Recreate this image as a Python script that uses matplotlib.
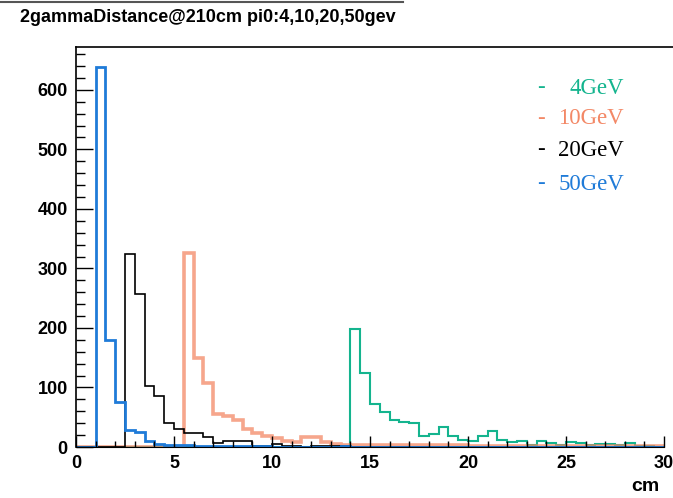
import numpy as np
import matplotlib
matplotlib.use("Agg")
import matplotlib.pyplot as plt
from matplotlib.lines import Line2D
from matplotlib.ticker import MultipleLocator

# histogram binning (cm), 0.5 cm bins from 0 to 30
bin_edges = np.linspace(0, 30, 61)

# counts per bin
h_4gev = [0] * 28 + [199, 125, 72, 59, 45, 42, 40, 18, 22, 34, 18, 12, 10, 18, 27, 12,
                     8, 10, 4, 10, 7, 3, 9, 6, 3, 5, 5, 3, 6, 2, 2, 0]
h_10gev = [0] * 11 + [326, 150, 107, 55, 52, 46, 30, 24, 19, 15, 10, 8, 16, 16, 8, 5, 3] \
    + [3] * 12 + [2] * 20
h_20gev = [0] * 5 + [325, 257, 103, 85, 40, 31, 23, 23, 16, 7, 10, 10, 10, 2, 2, 5, 2, 2, 0,
                     1, 1, 1, 1] + [0] * 32
h_50gev = [0, 0, 638, 180, 75, 28, 26, 10, 5, 4, 3, 3, 1, 2, 2, 2, 1, 1, 2, 1,
           0, 0, 0, 0, 0, 0, 0, 2] + [0] * 32

labels = ["4GeV", "10GeV", "20GeV", "50GeV"]
colors = ["#14b48e", "#f38866", "black", "#1f7bd8"]

title = "2gammaDistance@210cm pi0:4,10,20,50gev"

W, H = 673, 498
fig = plt.figure(figsize=(W / 100, H / 100), dpi=100)
ax = fig.add_axes([76 / W, 1 - 447 / H, (664 - 76) / W, (447 - 47) / H])

ax.stairs(h_4gev, bin_edges, color=colors[0], lw=1.5)
ax.stairs(h_10gev, bin_edges, color=colors[1], lw=2.6, alpha=0.75)
ax.stairs(h_20gev, bin_edges, color=colors[2], lw=1.2)
ax.stairs(h_50gev, bin_edges, color=colors[3], lw=2.0)

ax.set_xlim(0, 30)
ax.set_ylim(0, 672)
ax.xaxis.set_major_locator(MultipleLocator(5))
ax.xaxis.set_minor_locator(MultipleLocator(1))
ax.yaxis.set_major_locator(MultipleLocator(100))
ax.yaxis.set_minor_locator(MultipleLocator(20))

font = "Liberation Sans"
ax.tick_params(axis="both", which="both", direction="in")
ax.tick_params(axis="x", which="major", length=8, width=1, pad=6)
ax.tick_params(axis="x", which="minor", length=4, width=1)
ax.tick_params(axis="y", which="major", length=12, width=1, pad=6)
ax.tick_params(axis="y", which="minor", length=6.5, width=1)
for lab in ax.get_xticklabels() + ax.get_yticklabels():
    lab.set_fontfamily(font)
    lab.set_fontweight("bold")
    lab.set_fontsize(13)

for side in ["right", "top"]:
    ax.spines[side].set_visible(False)
ax.spines["left"].set_linewidth(1.2)
ax.spines["bottom"].set_linewidth(0.8)

# frame line on top that runs to the edge, and title box line
fig.add_artist(Line2D([76 / W, 1.0], [1 - 47 / H] * 2, color="black", lw=1.2))
fig.add_artist(Line2D([0, 403 / W], [1 - 2 / H] * 2, color="#555555", lw=1.5))
fig.text(20 / W, 1 - 17 / H, title, fontsize=13, fontfamily=font,
         fontweight="bold", va="center", ha="left")

fig.text(660 / W, 1 - 486 / H, "cm", fontsize=14, fontfamily=font,
         fontweight="bold", va="center", ha="right")

# legend-like labels
leg_y = [88, 118, 150, 184]
for lab, c, yy in zip(labels, colors, leg_y):
    fig.text(537 / W, 1 - yy / H, "-", color=c, fontsize=16.5,
             fontfamily="Liberation Serif", va="center", ha="left")
    fig.text(624 / W, 1 - yy / H, lab, color=c, fontsize=16.5,
             fontfamily="Liberation Serif", va="center", ha="right")

fig.savefig("out.png", dpi=100)
